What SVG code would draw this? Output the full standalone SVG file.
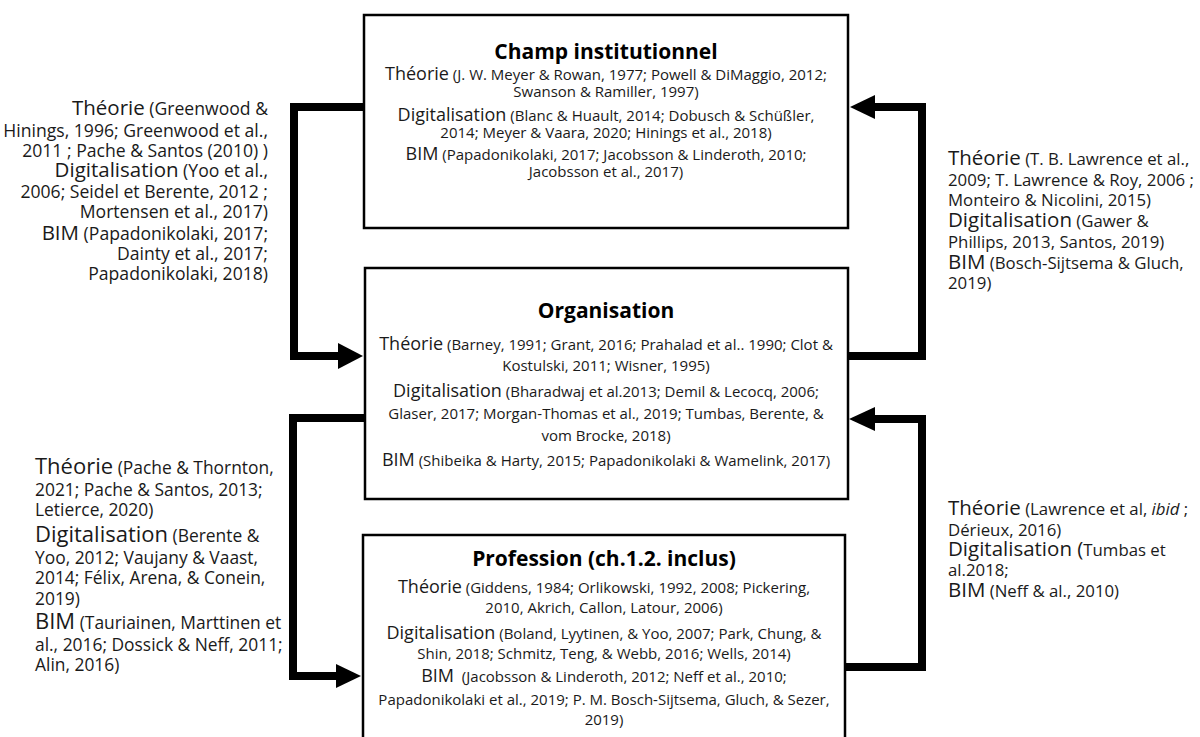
<svg xmlns="http://www.w3.org/2000/svg" width="1200" height="737" viewBox="0 0 1200 737">
<style>
text{font-family:"Open Sans","Noto Sans","Liberation Sans",sans-serif;fill:#1a1a1a}
.box{fill:#fff;stroke:#000;stroke-width:2.5}
.title{font-weight:bold;font-size:21px;fill:#000}
.bk{font-size:18px}
.br{font-size:15px}
.sk{font-size:20.5px}
.sr{font-size:16.8px}
#left-top .sr{font-size:17.6px}
#left-bottom .sr{font-size:17.4px}
#left-bottom .sk{font-size:22px}
.c text{text-anchor:middle}
.conn{fill:none;stroke:#000;stroke-width:8;stroke-linejoin:miter}
</style>
<rect width="1200" height="737" fill="#fff"/>
<g id="connectors">
<path class="conn" d="M365,107 H294 V356 H340"/>
<polygon points="338,343 363,356 338,369"/>
<path class="conn" d="M365,418 H293 V676 H338"/>
<polygon points="336,664 361,676 336,688"/>
<path class="conn" d="M848,356 H922 V107 H873"/>
<polygon points="875,95 850,107 875,119"/>
<path class="conn" d="M845,667 H922 V419 H873"/>
<polygon points="875,407 849,419 875,431"/>
</g>
<g id="champ" class="c">
<rect class="box" x="364" y="15" width="484" height="213"/>
<text class="title" x="606" y="59">Champ institutionnel</text>
<text x="606" y="80"><tspan class="bk">Théorie</tspan><tspan class="br"> (J. W. Meyer &amp; Rowan, 1977; Powell &amp; DiMaggio, 2012;</tspan></text>
<text class="br" x="606" y="97">Swanson &amp; Ramiller, 1997)</text>
<text x="606" y="121"><tspan class="bk">Digitalisation</tspan><tspan class="br"> (Blanc &amp; Huault, 2014; Dobusch &amp; Schüßler,</tspan></text>
<text class="br" x="606" y="138">2014; Meyer &amp; Vaara, 2020; Hinings et al., 2018)</text>
<text x="606" y="160"><tspan class="bk">BIM</tspan><tspan class="br"> (Papadonikolaki, 2017; Jacobsson &amp; Linderoth, 2010;</tspan></text>
<text class="br" x="606" y="177">Jacobsson et al., 2017)</text>
</g>
<g id="organisation" class="c">
<rect class="box" x="365" y="268" width="483" height="231"/>
<text class="title" x="606" y="318">Organisation</text>
<text x="606" y="350"><tspan class="bk">Théorie</tspan><tspan class="br"> (Barney, 1991; Grant, 2016; Prahalad et al.. 1990; Clot &amp;</tspan></text>
<text class="br" x="606" y="371">Kostulski, 2011; Wisner, 1995)</text>
<text x="606" y="397"><tspan class="bk">Digitalisation</tspan><tspan class="br"> (Bharadwaj et al.2013; Demil &amp; Lecocq, 2006;</tspan></text>
<text class="br" x="606" y="419">Glaser, 2017; Morgan-Thomas et al., 2019; Tumbas, Berente, &amp;</text>
<text class="br" x="606" y="441">vom Brocke, 2018)</text>
<text x="606" y="466"><tspan class="bk">BIM</tspan><tspan class="br"> (Shibeika &amp; Harty, 2015; Papadonikolaki &amp; Wamelink, 2017)</tspan></text>
</g>
<g id="profession" class="c">
<rect class="box" x="363" y="535" width="482" height="215"/>
<text class="title" x="604" y="566">Profession (ch.1.2. inclus)</text>
<text x="604" y="593"><tspan class="bk">Théorie</tspan><tspan class="br"> (Giddens, 1984; Orlikowski, 1992, 2008; Pickering,</tspan></text>
<text class="br" x="604" y="613">2010, Akrich, Callon, Latour, 2006)</text>
<text x="604" y="639"><tspan class="bk">Digitalisation</tspan><tspan class="br"> (Boland, Lyytinen, &amp; Yoo, 2007; Park, Chung, &amp;</tspan></text>
<text class="br" x="604" y="659">Shin, 2018; Schmitz, Teng, &amp; Webb, 2016; Wells, 2014)</text>
<text x="604" y="682"><tspan class="bk">BIM</tspan><tspan class="br" xml:space="preserve">  (Jacobsson &amp; Linderoth, 2012; Neff et al., 2010;</tspan></text>
<text class="br" x="604" y="705">Papadonikolaki et al., 2019; P. M. Bosch-Sijtsema, Gluch, &amp; Sezer,</text>
<text class="br" x="604" y="725">2019)</text>
</g>
<g id="left-top" text-anchor="end">
<text x="268" y="115"><tspan class="sk">Théorie</tspan><tspan class="sr"> (Greenwood &amp;</tspan></text>
<text class="sr" x="268" y="137">Hinings, 1996; Greenwood et al.,</text>
<text class="sr" x="268" y="157">2011 ; Pache &amp; Santos (2010) )</text>
<text x="268" y="177"><tspan class="sk">Digitalisation</tspan><tspan class="sr"> (Yoo et al.,</tspan></text>
<text class="sr" x="268" y="198">2006; Seidel et Berente, 2012 ;</text>
<text class="sr" x="268" y="218">Mortensen et al., 2017)</text>
<text x="268" y="240"><tspan class="sk">BIM</tspan><tspan class="sr"> (Papadonikolaki, 2017;</tspan></text>
<text class="sr" x="268" y="260">Dainty et al., 2017;</text>
<text class="sr" x="268" y="280">Papadonikolaki, 2018)</text>
</g>
<g id="left-bottom">
<text x="35" y="474"><tspan class="sk">Théorie</tspan><tspan class="sr"> (Pache &amp; Thornton,</tspan></text>
<text class="sr" x="35" y="496">2021; Pache &amp; Santos, 2013;</text>
<text class="sr" x="35" y="516">Letierce, 2020)</text>
<text x="35" y="542"><tspan class="sk">Digitalisation</tspan><tspan class="sr"> (Berente &amp;</tspan></text>
<text class="sr" x="35" y="564">Yoo, 2012; Vaujany &amp; Vaast,</text>
<text class="sr" x="35" y="584">2014; Félix, Arena, &amp; Conein,</text>
<text class="sr" x="35" y="605">2019)</text>
<text x="35" y="629"><tspan class="sk">BIM</tspan><tspan class="sr"> (Tauriainen, Marttinen et</tspan></text>
<text class="sr" x="35" y="651">al., 2016; Dossick &amp; Neff, 2011;</text>
<text class="sr" x="35" y="671">Alin, 2016)</text>
</g>
<g id="right-top">
<text x="948" y="165"><tspan class="sk">Théorie</tspan><tspan class="sr"> (T. B. Lawrence et al.,</tspan></text>
<text class="sr" x="948" y="186">2009; T. Lawrence &amp; Roy, 2006 ;</text>
<text class="sr" x="948" y="206">Monteiro &amp; Nicolini, 2015)</text>
<text x="948" y="227"><tspan class="sk">Digitalisation</tspan><tspan class="sr"> (Gawer &amp;</tspan></text>
<text class="sr" x="948" y="248">Phillips, 2013, Santos, 2019)</text>
<text x="948" y="269"><tspan class="sk">BIM</tspan><tspan class="sr"> (Bosch-Sijtsema &amp; Gluch,</tspan></text>
<text class="sr" x="948" y="289">2019)</text>
</g>
<g id="right-bottom">
<text x="948" y="515"><tspan class="sk">Théorie</tspan><tspan class="sr"> (Lawrence et al, </tspan><tspan class="sr" font-style="italic">ibid</tspan><tspan class="sr"> ;</tspan></text>
<text class="sr" x="948" y="536">Dérieux, 2016)</text>
<text x="948" y="556"><tspan class="sk">Digitalisation (</tspan><tspan class="sr">Tumbas et</tspan></text>
<text class="sr" x="948" y="576">al.2018;</text>
<text x="948" y="597"><tspan class="sk">BIM</tspan><tspan class="sr"> (Neff &amp; al., 2010)</tspan></text>
</g>
</svg>
